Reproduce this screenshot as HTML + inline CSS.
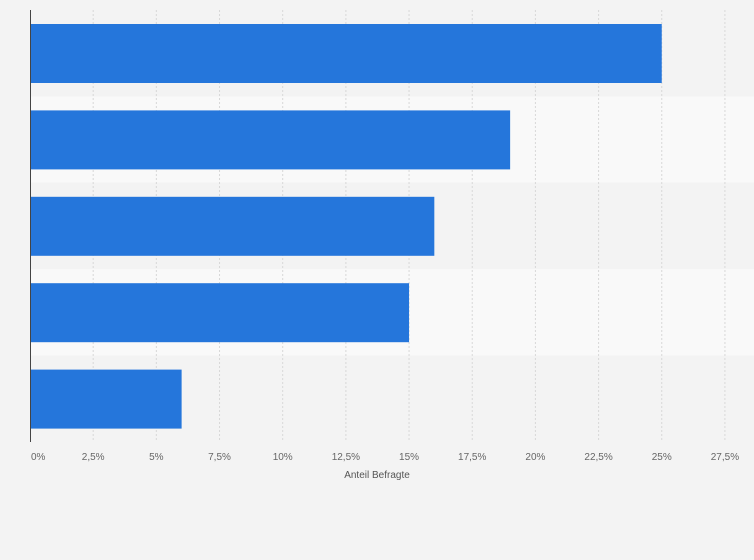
<!DOCTYPE html>
<html><head><meta charset="utf-8"><style>
body{margin:0;background:#f3f3f3;font-family:"Liberation Sans",sans-serif}
</style></head><body>
<svg id="c" width="754" height="560" style="display:block"></svg>
<script>
const categories=["A","B","C","D","E"];
const values=[25,19,16,15,6];
const ticks=[0,2.5,5,7.5,10,12.5,15,17.5,20,22.5,25,27.5];
const tickLabels=["0%","2,5%","5%","7,5%","10%","12,5%","15%","17,5%","20%","22,5%","25%","27,5%"];
const NS="http://www.w3.org/2000/svg";
const svg=document.getElementById('c');
const x0=30,pxPer=25.27,top0=10,band=86.4;
const xs=v=>x0+v*pxPer;
function mk(t,a){const e=document.createElementNS(NS,t);for(const k in a)e.setAttribute(k,a[k]);svg.appendChild(e);return e;}
categories.forEach((c,i)=>{
 const r=mk('rect',{x:x0,y:top0+i*band,width:724-x0+30,height:band,fill:i%2?'#f9f9f9':'#f3f3f3'});
 
 
});
ticks.forEach((t,i)=>{
 if(i>0){const l=mk('line',{x1:xs(t),x2:xs(t),y1:top0,y2:442,stroke:'#d8d8d8','stroke-dasharray':'2,2'});
 
 }
 const tx=mk('text',{x:i==0?31:xs(t),y:460,'font-size':10,fill:'#666','text-anchor':i==0?'start':'middle'});
 tx.textContent=tickLabels[i];
 
 
});
values.forEach((v,i)=>{
 const b=mk('rect',{x:x0,y:top0+i*band+14,width:xs(v)-x0,height:59,fill:'#2576db'});
 
 
});
const ax=mk('line',{x1:30.5,x2:30.5,y1:top0,y2:442,stroke:'#444','stroke-width':1});


const t=mk('text',{x:377,y:478,'font-size':10,fill:'#555','text-anchor':'middle'});
t.textContent='Anteil Befragte';


</script>
</body></html>
